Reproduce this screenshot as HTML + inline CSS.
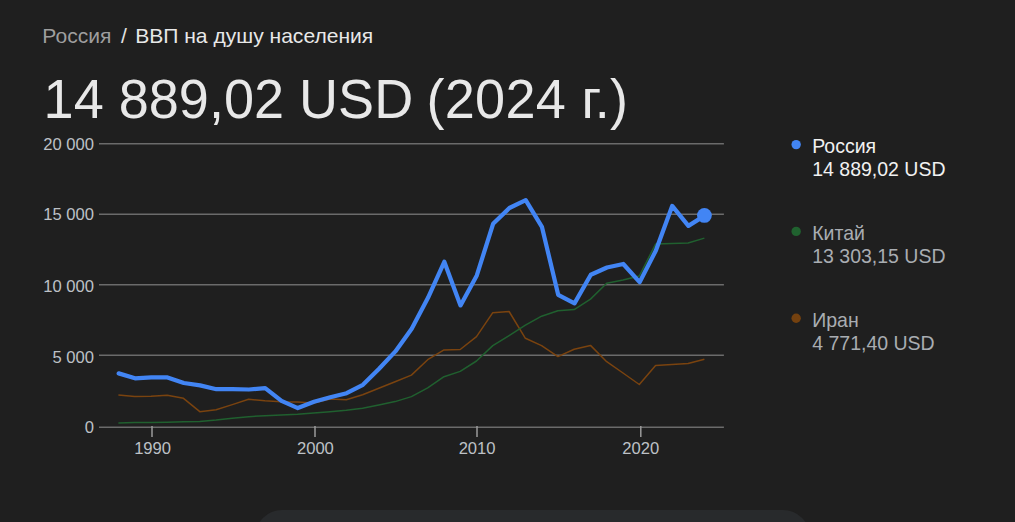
<!DOCTYPE html>
<html lang="ru"><head><meta charset="utf-8"><title>ВВП на душу населения</title>
<style>
html,body{margin:0;padding:0;background:#1f1f1f;}
body{width:1015px;height:522px;overflow:hidden;position:relative;font-family:"Liberation Sans",Arial,sans-serif;}
.crumb{position:absolute;left:42.3px;top:24.3px;font-size:21.07px;line-height:24px;color:#e8e8e8;white-space:nowrap;}
.crumb .a{color:#9e9e9e;}
.crumb .s{color:#e2e2e2;padding:0 8.4px 0 9.5px;}
.big{position:absolute;left:43.6px;top:67.6px;font-size:54.05px;line-height:62px;color:#e8e8e8;white-space:nowrap;transform:scaleY(1.04);transform-origin:0 50px;}
svg{position:absolute;left:0;top:0;}
.leg{position:absolute;left:812.2px;font-size:19.5px;line-height:23.5px;color:#a9adb2;white-space:nowrap;}
.leg div{transform:scaleY(1.06);transform-origin:0 18.2px;}
.leg.on{color:#f1f1f1;}
.pill{position:absolute;left:254.7px;top:509.7px;width:555.6px;height:54px;border-radius:27px;background:#282a2c;}
</style></head><body>
<div class="crumb"><span class="a">Россия</span><span class="s">/</span><span>ВВП на душу населения</span></div>
<div class="big">14 889,02 USD <span style="margin-left:-1.7px;letter-spacing:0.28px">(2024 г.)</span></div>
<svg width="1015" height="522" viewBox="0 0 1015 522">
<g stroke="#6b6b6b" stroke-width="1.5" fill="none">
<path d="M99 143.8H723.9M99 214.2H723.9M99 284.8H723.9M99 355.2H723.9M99 427.2H723.9"/>
<path stroke="#9a9a9a" stroke-width="1.5" d="M152 426V437M315 426V437M477 426V437M640.8 426V437"/>
</g>
<g font-family="Liberation Sans, Arial, sans-serif" font-size="16.6" fill="#bdc1c6">
<g text-anchor="end">
<text x="94" y="150.2">20 000</text>
<text x="94" y="220.1">15 000</text>
<text x="94" y="291.7">10 000</text>
<text x="94" y="362.8">5 000</text>
<text x="94" y="432.8">0</text>
</g>
<g text-anchor="middle">
<text x="152.6" y="453.8">1990</text>
<text x="315.4" y="453.8">2000</text>
<text x="477.1" y="453.8">2010</text>
<text x="640.8" y="453.8">2020</text>
</g>
</g>
<polyline fill="none" stroke="#7a430f" stroke-width="1.5" stroke-linejoin="round" points="118.4,394.9 134.7,396.5 151.0,396.3 167.2,395.3 183.5,398.3 199.8,411.7 216.1,409.7 232.3,404.6 248.6,399.3 264.9,400.8 281.2,401.8 297.5,402.1 313.7,403.0 330.0,399.1 346.3,399.7 362.6,394.8 378.8,388.3 395.1,381.8 411.4,375.1 427.7,359.7 444.0,349.9 460.2,349.5 476.5,336.7 492.8,312.7 509.1,311.5 525.4,338.3 541.6,345.6 557.9,356.6 574.2,349.3 590.5,345.4 606.7,361.7 623.0,373.0 639.3,384.5 655.6,365.4 671.9,364.5 688.1,363.5 704.4,359.3"/>
<polyline fill="none" stroke="#20602f" stroke-width="1.5" stroke-linejoin="round" points="118.4,422.9 134.7,422.5 151.0,422.4 167.2,422.2 183.5,421.7 199.8,421.5 216.1,420.1 232.3,418.2 248.6,416.7 264.9,415.7 281.2,415.0 297.5,414.3 313.7,413.1 330.0,411.7 346.3,410.3 362.6,408.3 378.8,405.1 395.1,401.6 411.4,396.6 427.7,387.9 444.0,376.7 460.2,371.4 476.5,361.0 492.8,345.6 509.1,335.6 525.4,325.2 541.6,316.2 557.9,310.7 574.2,309.6 590.5,299.1 606.7,283.3 623.0,279.9 639.3,276.0 655.6,244.0 671.9,243.4 688.1,243.0 704.4,238.1"/>
<polyline fill="none" stroke="#4285f4" stroke-width="4.25" transform="translate(0.3,0)" stroke-linejoin="round" stroke-linecap="round" points="118.4,373.4 134.7,378.3 151.0,377.4 167.2,377.4 183.5,383.0 199.8,385.4 216.1,389.2 232.3,389.1 248.6,389.5 264.9,388.1 281.2,400.9 297.5,408.1 313.7,401.8 330.0,397.2 346.3,393.2 362.6,384.8 378.8,368.8 395.1,351.4 411.4,328.7 427.7,297.8 444.0,261.8 460.2,305.4 476.5,275.4 492.8,223.8 509.1,208.0 525.4,200.2 541.6,226.8 557.9,294.8 574.2,303.4 590.5,274.8 606.7,267.5 623.0,264.0 639.3,282.2 655.6,250.5 671.9,205.9 688.1,225.9 704.4,215.6"/>
<circle cx="704.4" cy="215.4" r="7.4" fill="#4285f4"/>
<circle cx="796.15" cy="144.6" r="4.7" fill="#4285f4"/>
<circle cx="796.15" cy="231.4" r="4.7" fill="#20622f"/>
<circle cx="796.15" cy="318.3" r="4.7" fill="#74410f"/>
</svg>
<div class="leg on" style="top:134.7px"><div>Россия</div><div>14 889,02 USD</div></div>
<div class="leg" style="top:221.6px"><div>Китай</div><div>13 303,15 USD</div></div>
<div class="leg" style="top:308.6px"><div>Иран</div><div>4 771,40 USD</div></div>
<div class="pill"></div>
</body></html>
